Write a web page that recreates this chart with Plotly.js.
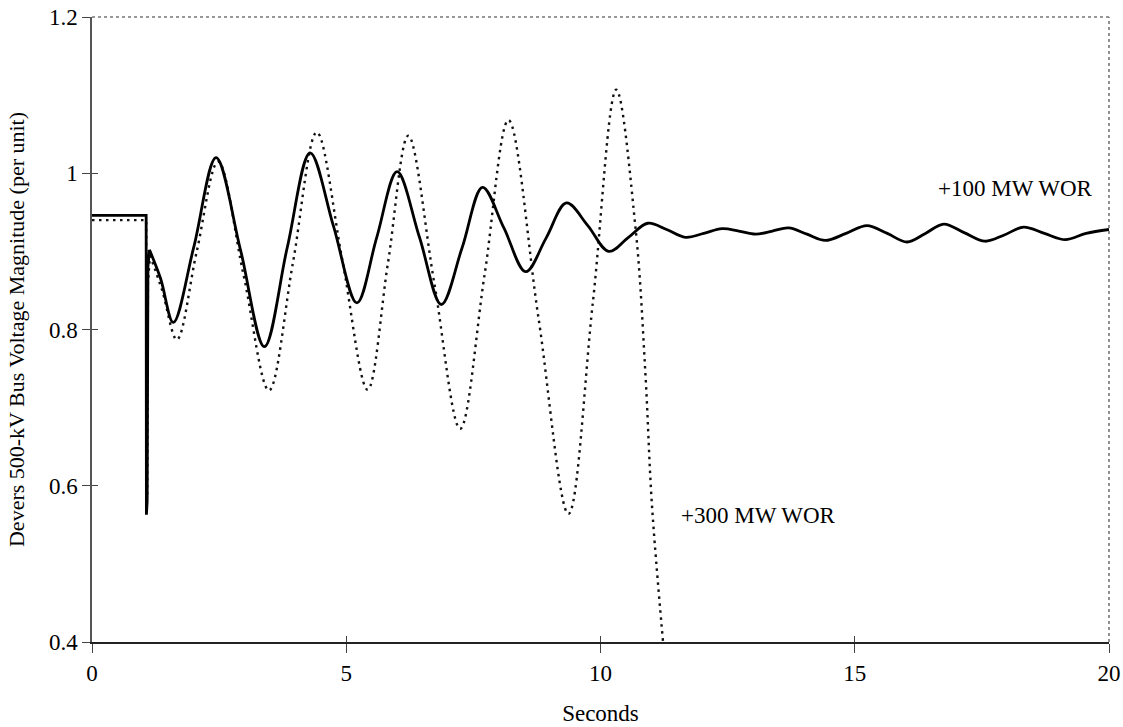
<!DOCTYPE html>
<html>
<head>
<meta charset="utf-8">
<script src="https://cdn.plot.ly/plotly-3.0.1.min.js"></script>
<style>
  html, body { margin: 0; padding: 0; background: #fff; }
  #chart { width: 1123px; height: 727px; }
</style>
</head>
<body>
<div id="chart"></div>
<script>
// Devers 500-kV bus voltage after the fault, two West-of-River transfer levels.
// The first points of each series hold the pre-fault level and the fault dip
// (drawn with straight segments); the rest is the swing (drawn smoothed).

// +100 MW WOR
const time100 = [0, 1.065, 1.07, 1.085, 1.10, 1.13,
  1.13, 1.35, 1.6, 2.0, 2.44, 2.92, 3.39, 3.84, 4.29, 4.75, 5.21, 5.6, 6.0,
  6.44, 6.87, 7.28, 7.68, 8.1, 8.53, 8.93, 9.33, 9.75, 10.16, 10.55, 10.93,
  11.3, 11.67, 12.03, 12.39, 12.72, 13.05, 13.38, 13.7, 14.06, 14.42, 14.83,
  15.24, 15.64, 16.03, 16.39, 16.75, 17.15, 17.56, 17.94, 18.32, 18.73,
  19.14, 19.55, 20];
const volt100 = [0.946, 0.946, 0.563, 0.58, 0.88, 0.902,
  0.902, 0.865, 0.809, 0.905, 1.020, 0.902, 0.778, 0.905, 1.026, 0.932,
  0.834, 0.918, 1.002, 0.918, 0.832, 0.905, 0.982, 0.930, 0.874, 0.917,
  0.962, 0.933, 0.900, 0.918, 0.936, 0.928, 0.918, 0.923, 0.929, 0.926,
  0.922, 0.926, 0.930, 0.922, 0.914, 0.923, 0.933, 0.923, 0.912, 0.923,
  0.935, 0.924, 0.913, 0.921, 0.931, 0.923, 0.915, 0.923, 0.928];

// +300 MW WOR
const time300 = [0, 1.065, 1.07, 1.085, 1.10, 1.14,
  1.14, 1.38, 1.67, 2.06, 2.48, 2.98, 3.48, 3.95, 4.42, 4.92, 5.42, 5.82,
  6.22, 6.73, 7.24, 7.72, 8.19, 8.78, 9.37, 9.85, 10.31, 10.69, 10.88,
  11.01, 11.23];
const volt300 = [0.940, 0.940, 0.575, 0.59, 0.86, 0.895,
  0.895, 0.850, 0.787, 0.900, 1.015, 0.870, 0.722, 0.885, 1.0525, 0.890,
  0.723, 0.885, 1.048, 0.860, 0.673, 0.870, 1.068, 0.815, 0.564, 0.835,
  1.107, 0.929, 0.747, 0.577, 0.400];

const faultPoints = 6;   // points before the swing starts

const seriesLabels = ['+100 MW WOR', '+300 MW WOR'];
const labelTime = [18.17, 13.1];
const labelVolt = [0.981, 0.562];

const xTicks = [0, 5, 10, 15, 20];
const yTicks = [0.4, 0.6, 0.8, 1.0, 1.2];
const yTickText = ['0.4', '0.6', '0.8', '1', '1.2'];
const xRange = [0, 20];
const yRange = [0.4, 1.2];

const FONT = 'Liberation Serif, Times New Roman, serif';

const solidLine = {color: '#000', width: 2.8};
const dotLine = {color: '#111', width: 2.4, dash: '2.5px,4.5px'};

function part(arr, head) {
  return head ? arr.slice(0, faultPoints) : arr.slice(faultPoints);
}

const traces = [
  {x: part(time300, true), y: part(volt300, true), mode: 'lines',
   line: Object.assign({shape: 'linear'}, dotLine), hoverinfo: 'skip'},
  {x: part(time300, false), y: part(volt300, false), mode: 'lines',
   line: Object.assign({shape: 'spline', smoothing: 1}, dotLine), hoverinfo: 'skip'},
  {x: part(time100, true), y: part(volt100, true), mode: 'lines',
   line: Object.assign({shape: 'linear'}, solidLine), hoverinfo: 'skip'},
  {x: part(time100, false), y: part(volt100, false), mode: 'lines',
   line: Object.assign({shape: 'spline', smoothing: 1}, solidLine), hoverinfo: 'skip'},
  // empty trace that carries the inner halves of the tick marks
  {x: [], y: [], xaxis: 'x2', yaxis: 'y2', mode: 'lines', hoverinfo: 'skip'}
];

const layout = {
  width: 1123, height: 727,
  margin: {l: 92, r: 14, t: 17, b: 85},
  paper_bgcolor: '#fff', plot_bgcolor: '#fff',
  showlegend: false,
  font: {family: FONT, size: 23, color: '#000'},
  xaxis: {
    range: xRange, tickvals: xTicks, ticktext: xTicks.map(String),
    ticks: 'outside', ticklen: 9, tickwidth: 1, tickcolor: '#444',
    showline: true, linecolor: '#222', linewidth: 2,
    showgrid: false, zeroline: false,
    tickfont: {family: FONT, size: 23, color: '#000'},
    title: {text: 'Seconds', font: {family: FONT, size: 23, color: '#000'}, standoff: 20}
  },
  yaxis: {
    range: yRange, tickvals: yTicks, ticktext: yTickText,
    ticks: 'outside', ticklen: 8, tickwidth: 1, tickcolor: '#444',
    showline: true, linecolor: '#555', linewidth: 1.6,
    showgrid: false, zeroline: false,
    tickfont: {family: FONT, size: 23, color: '#000'},
    title: {text: 'Devers 500-kV Bus Voltage Magnitude (per unit)',
            font: {family: FONT, size: 22, color: '#000'}, standoff: 18}
  },
  xaxis2: {
    overlaying: 'x', anchor: 'y2', side: 'bottom', range: xRange,
    tickvals: xTicks, ticks: 'inside', ticklen: 6, tickwidth: 1, tickcolor: '#444',
    showticklabels: false, showline: false, showgrid: false, zeroline: false
  },
  yaxis2: {
    overlaying: 'y', anchor: 'x2', side: 'left', range: yRange,
    tickvals: yTicks, ticks: 'inside', ticklen: 6, tickwidth: 1, tickcolor: '#444',
    showticklabels: false, showline: false, showgrid: false, zeroline: false
  },
  shapes: [
    // dotted frame on the top and right sides
    {type: 'line', xref: 'paper', yref: 'paper', x0: 0, x1: 1, y0: 1, y1: 1,
     line: {color: '#777', width: 1.6, dash: 'dot'}},
    {type: 'line', xref: 'paper', yref: 'paper', x0: 1, x1: 1, y0: 0, y1: 1,
     line: {color: '#777', width: 1.6, dash: 'dot'}}
  ],
  annotations: seriesLabels.map((t, i) => ({
    x: labelTime[i], y: labelVolt[i], xref: 'x', yref: 'y',
    text: t, showarrow: false, xanchor: 'center', yanchor: 'middle',
    font: {family: FONT, size: 23, color: '#000'}
  }))
};

Plotly.newPlot('chart', traces, layout, {displayModeBar: false, staticPlot: true});
</script>
</body>
</html>
